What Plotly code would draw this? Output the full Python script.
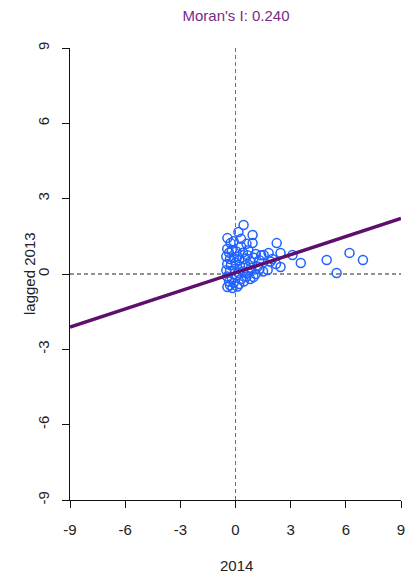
import plotly.graph_objects as go

# Standardised values: 2014 rate vs spatially lagged 2013 rate
x_2014 = [0.44, 0.16, 0.93, -0.44, -0.27, -0.10, 0.30, 0.60, 0.93, 2.24,
          -0.45, -0.20, 0.05, 0.40, 0.70, 1.10, 1.40, 1.53, 1.80, 2.45,
          -0.50, -0.30, -0.10, 0.20, 0.50, 0.80, 1.00, 1.30, 2.00, 3.10,
          -0.45, -0.25, 0.00, 0.25, 0.55, 0.85, 1.20, 1.75, 2.45, 3.55,
          -0.50, -0.30, -0.05, 0.15, 0.40, 0.70, 0.98, 1.50, 2.20, 1.90,
          -0.45, -0.20, 0.05, 0.30, 0.60, -0.35, -0.10, 0.20, -0.44, -0.16,
          0.10, -0.30, 0.45, 0.80, 1.10, 1.30, 0.65, 0.30, -0.35, 0.10,
          4.96, 5.50, 6.20, 6.93]
lagged_2013 = [1.95, 1.67, 1.55, 1.43, 1.23, 1.30, 1.10, 1.20, 1.23, 1.23,
               1.00, 0.95, 0.90, 0.85, 0.95, 0.80, 0.75, 0.76, 0.84, 0.84,
               0.70, 0.60, 0.65, 0.55, 0.60, 0.50, 0.65, 0.55, 0.60, 0.76,
               0.40, 0.35, 0.45, 0.30, 0.35, 0.25, 0.30, 0.16, 0.28, 0.44,
               0.15, 0.10, 0.20, 0.05, 0.10, 0.05, -0.12, 0.10, 0.40, 0.50,
               -0.10, -0.15, -0.05, -0.20, -0.10, -0.30, -0.35, -0.40, -0.52, -0.56,
               -0.50, -0.45, -0.30, -0.20, 0.00, 0.20, 0.75, 1.40, 0.85, 0.70,
               0.56, 0.04, 0.84, 0.56]

morans_i = 0.240
intercept = 0.05
axis_ticks = [-9, -6, -3, 0, 3, 6, 9]
fit_x = [-9, 9]
fit_y = [intercept + morans_i * v for v in fit_x]

PURPLE = "#5e0f6e"
BLUE = "#1f62ff"
FONT = "Liberation Sans, Arial, sans-serif"
W, H = 408, 580

fig = go.Figure()

# reference lines through the origin
fig.add_trace(go.Scatter(x=[0, 0], y=[-9, 9], mode="lines",
                         line=dict(color="#6e6e6e", width=1, dash="4px,3px"),
                         hoverinfo="skip", showlegend=False))
fig.add_trace(go.Scatter(x=[-9, 9], y=[0, 0], mode="lines",
                         line=dict(color="#6e6e6e", width=1.3, dash="4px,3px"),
                         hoverinfo="skip", showlegend=False))

fig.add_trace(go.Scatter(x=x_2014, y=lagged_2013, mode="markers",
                         marker=dict(symbol="circle-open", size=9, color=BLUE,
                                     line=dict(width=1.5, color=BLUE)),
                         showlegend=False))

fig.add_trace(go.Scatter(x=fit_x, y=fit_y, mode="lines",
                         line=dict(color=PURPLE, width=3.5),
                         showlegend=False))

axis_common = dict(
    range=[-9, 9], tickvals=axis_ticks, ticktext=[str(t) for t in axis_ticks],
    showgrid=False, zeroline=False, showline=True, linecolor="#111", linewidth=1.3,
    ticks="outside", ticklen=7, tickwidth=1.3, tickcolor="#111",
    tickfont=dict(family=FONT, size=15, color="#222"),
)

fig.update_layout(
    width=W, height=H,
    margin=dict(l=70, r=7, t=48, b=80, autoexpand=False),
    paper_bgcolor="white", plot_bgcolor="white",
    font=dict(family=FONT, color="#222"),
    title=dict(text="Moran's I: 0.240", x=236 / W, xanchor="center",
               y=1 - 16 / H, yanchor="middle",
               font=dict(family=FONT, size=15, color="#7a2a8a")),
    xaxis=dict(**axis_common, ticklabelstandoff=9),
    yaxis=dict(**axis_common, tickangle=-90, ticklabelstandoff=7),
    annotations=[
        dict(text="2014", xref="paper", yref="paper",
             x=(236 - 70) / (W - 77), y=-(565 - 500) / (H - 128),
             xanchor="center", yanchor="middle", showarrow=False,
             font=dict(family=FONT, size=15, color="#222")),
        dict(text="lagged 2013", xref="paper", yref="paper",
             x=-(70 - 29) / (W - 77), y=0.5, textangle=-90,
             xanchor="center", yanchor="middle", showarrow=False,
             font=dict(family=FONT, size=15, color="#222")),
    ],
)

fig.write_html("out.html")
